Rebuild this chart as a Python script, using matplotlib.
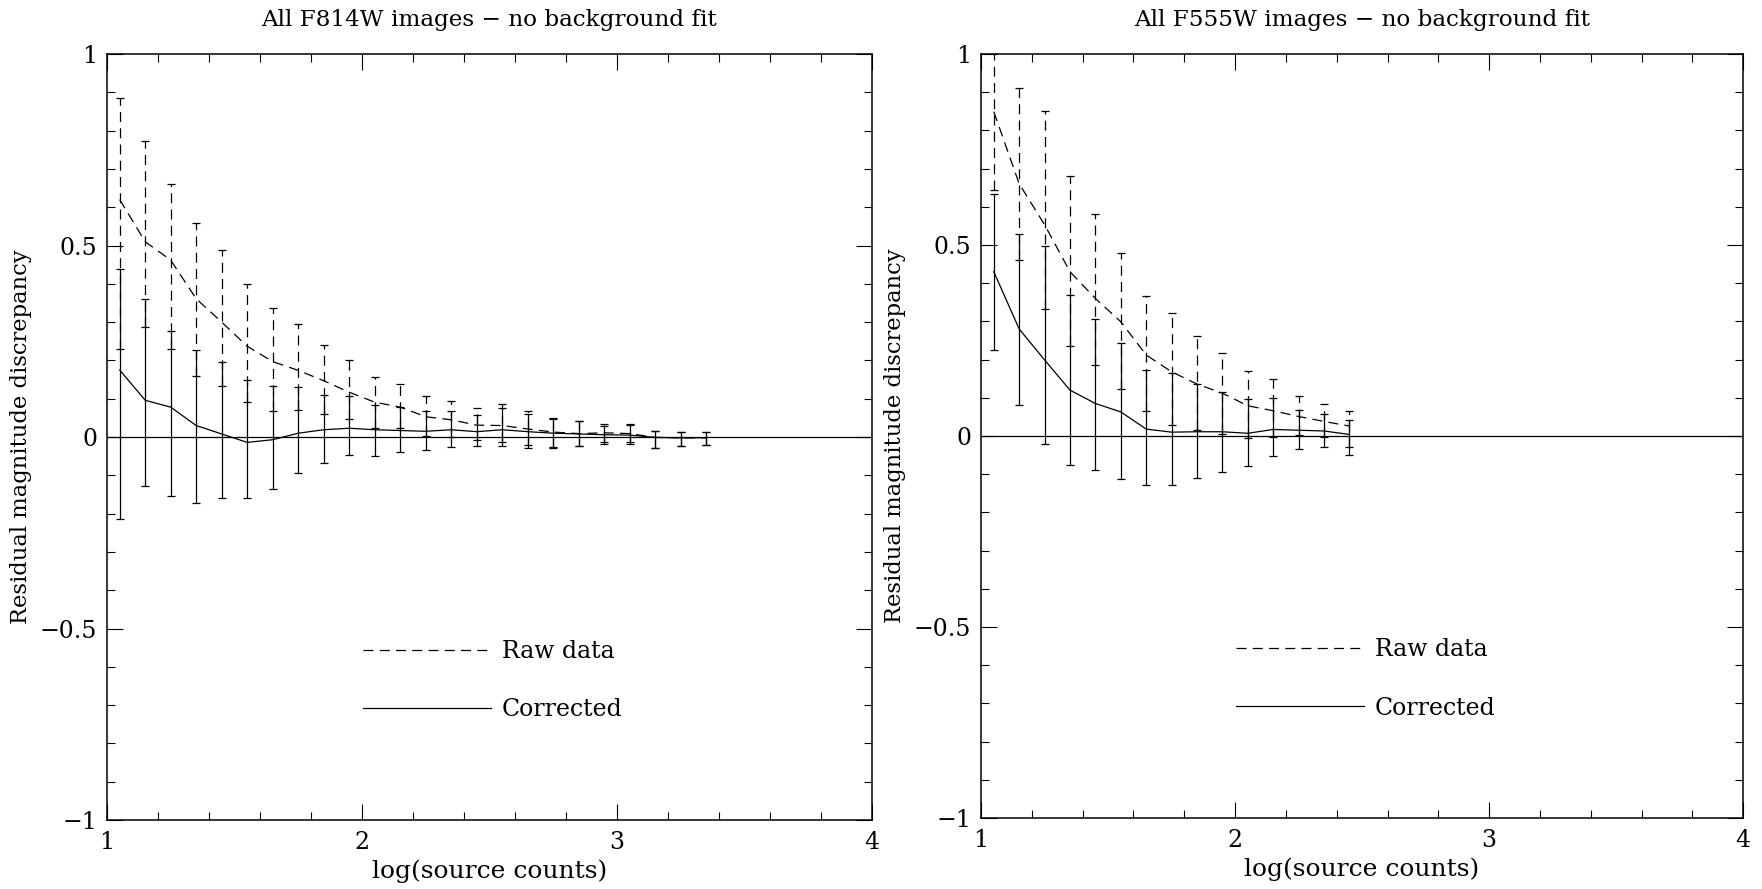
import matplotlib
matplotlib.use('Agg')
import matplotlib.pyplot as plt
from matplotlib.lines import Line2D
from matplotlib.ticker import MultipleLocator, FuncFormatter

plt.rcParams['font.family'] = ['DejaVu Serif', 'DejaVu Sans']

# F814W panel: log(source counts) bins, raw and corrected residuals, asymmetric errors
x_814 = [1.05, 1.15, 1.25, 1.35, 1.45, 1.55, 1.65, 1.75, 1.85, 1.95, 2.05, 2.15,
         2.25, 2.35, 2.45, 2.55, 2.65, 2.75, 2.85, 2.95, 3.05, 3.15, 3.25, 3.35]
raw_814 = [0.620, 0.510, 0.462, 0.361, 0.300, 0.237, 0.197, 0.174, 0.147, 0.117, 0.091, 0.078,
           0.053, 0.045, 0.031, 0.030, 0.021, 0.013, 0.009, 0.011, 0.009, -0.001, -0.002, -0.002]
cor_814 = [0.175, 0.096, 0.078, 0.030, 0.008, -0.014, -0.007, 0.010, 0.019, 0.023, 0.019, 0.017,
           0.015, 0.019, 0.014, 0.019, 0.014, 0.010, 0.008, 0.006, 0.005, -0.001, -0.002, -0.002]
up_814 = [0.265, 0.264, 0.198, 0.198, 0.188, 0.163, 0.140, 0.121, 0.092, 0.085, 0.065, 0.061,
          0.053, 0.050, 0.044, 0.056, 0.046, 0.038, 0.034, 0.023, 0.026, 0.018, 0.014, 0.014]
dn_814 = [0.390, 0.223, 0.232, 0.201, 0.167, 0.145, 0.129, 0.104, 0.088, 0.070, 0.068, 0.055,
          0.049, 0.046, 0.038, 0.043, 0.043, 0.038, 0.032, 0.025, 0.023, 0.028, 0.021, 0.018]

# F555W panel
x_555 = [1.05, 1.15, 1.25, 1.35, 1.45, 1.55, 1.65, 1.75, 1.85, 1.95, 2.05, 2.15,
         2.25, 2.35, 2.45]
raw_555 = [0.849, 0.660, 0.553, 0.430, 0.360, 0.299, 0.212, 0.168, 0.136, 0.112, 0.079, 0.066,
           0.051, 0.038, 0.026]
cor_555 = [0.430, 0.280, 0.199, 0.120, 0.085, 0.063, 0.018, 0.010, 0.011, 0.011, 0.007, 0.017,
           0.015, 0.013, 0.004]
up_555 = [0.203, 0.250, 0.298, 0.250, 0.222, 0.181, 0.154, 0.154, 0.126, 0.105, 0.090, 0.082,
          0.054, 0.045, 0.039]
dn_555 = [0.205, 0.200, 0.220, 0.195, 0.173, 0.175, 0.146, 0.139, 0.120, 0.106, 0.085, 0.070,
          0.049, 0.042, 0.055]

titles = ['All F814W images \u2212 no background fit',
          'All F555W images \u2212 no background fit']
legend_labels = ['Raw data', 'Corrected']

DASH = (0, (8, 5))
LW = 0.9
FS = 17


def draw_panel(ax, x, raw, cor, up, dn, title):
    yerr = [dn, up]
    eb = ax.errorbar(x, raw, yerr=yerr, color='k', lw=LW, linestyle=DASH,
                     elinewidth=LW, capsize=3, capthick=LW)
    eb[2][0].set_linestyle(DASH)
    ax.errorbar(x, cor, yerr=yerr, color='k', lw=LW, linestyle='-',
                elinewidth=LW, capsize=3, capthick=LW)
    ax.axhline(0, color='k', lw=LW)

    ax.set_xlim(1, 4)
    ax.set_ylim(-1, 1)
    ax.xaxis.set_major_locator(MultipleLocator(1))
    ax.xaxis.set_minor_locator(MultipleLocator(0.2))
    ax.yaxis.set_major_locator(MultipleLocator(0.5))
    ax.yaxis.set_minor_locator(MultipleLocator(0.1))
    ax.yaxis.set_major_formatter(FuncFormatter(lambda v, p: f'{v:g}'.replace('-', '\u2212')))
    ax.tick_params(which='both', direction='in', top=True, right=True, width=0.8,
                   labelsize=FS)
    ax.tick_params(which='major', length=11.5)
    ax.tick_params(which='minor', length=5.5)
    ax.tick_params(axis='y', pad=7)
    ax.tick_params(axis='x', pad=8)
    for s in ax.spines.values():
        s.set_linewidth(1.1)

    ax.set_title(title, fontsize=16.7, pad=20)
    ax.set_xlabel('log(source counts)', fontsize=18, labelpad=4)
    ax.set_ylabel('Residual magnitude discrepancy', fontsize=16.3, labelpad=6)

    handles = [Line2D([], [], color='k', lw=LW, linestyle=DASH),
               Line2D([], [], color='k', lw=LW, linestyle='-')]
    ax.legend(handles, legend_labels, loc='center left', bbox_to_anchor=(0.335, 0.182),
              frameon=False, fontsize=FS, handlelength=5.4, handletextpad=0.47,
              labelspacing=1.5, borderpad=0, borderaxespad=0)


fig = plt.figure(figsize=(17.62, 8.89), dpi=100)
ax1 = fig.add_axes([0.0607, 0.0776, 0.4342, 0.8616])
ax2 = fig.add_axes([0.5568, 0.0799, 0.4325, 0.8594])

draw_panel(ax1, x_814, raw_814, cor_814, up_814, dn_814, titles[0])
draw_panel(ax2, x_555, raw_555, cor_555, up_555, dn_555, titles[1])

fig.savefig('out.png', dpi=100)
